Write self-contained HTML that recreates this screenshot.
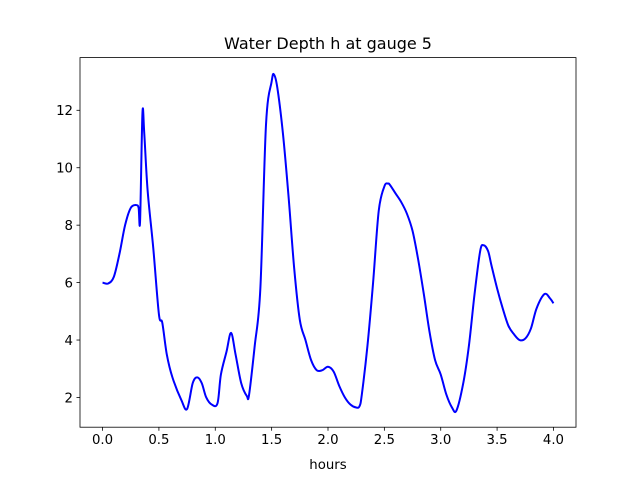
<!DOCTYPE html>
<html><head><meta charset="utf-8"><style>
body{margin:0;background:#fff}
text{font-family:"DejaVu Sans","Liberation Sans",sans-serif;fill:#000}
</style></head><body>
<svg width="640" height="480" viewBox="0 0 640 480">
<rect width="640" height="480" fill="#fff"/>
<g id="plot"></g>
<rect x="80" y="57.6" width="496" height="369.6" fill="none" stroke="#000" stroke-width="0.8"/>
<text x="328" y="49" text-anchor="middle" font-size="16">Water Depth h at gauge 5</text>
<text x="328" y="469" text-anchor="middle" font-size="13.3">hours</text>
</svg>
<script>
const times=[0,0.05,0.1,0.15,0.2,0.25,0.3,0.32,0.333,0.354,0.37,0.4,0.45,0.5,0.53,0.57,0.62,0.7,0.75,0.8,0.84,0.88,0.92,0.97,1.02,1.05,1.1,1.14,1.18,1.23,1.28,1.3,1.35,1.4,1.45,1.5,1.52,1.55,1.6,1.65,1.7,1.75,1.8,1.85,1.9,1.95,2.0,2.05,2.1,2.15,2.2,2.25,2.28,2.3,2.35,2.4,2.45,2.5,2.53,2.55,2.6,2.65,2.7,2.75,2.8,2.85,2.9,2.95,3.0,3.05,3.1,3.14,3.2,3.25,3.3,3.35,3.38,3.42,3.45,3.5,3.55,3.6,3.65,3.7,3.75,3.8,3.85,3.92,3.97,4.0];
const depths=[6.0,5.97,6.2,7.0,8.0,8.6,8.7,8.6,8.15,11.9,11.2,9.2,7.2,4.9,4.6,3.5,2.7,1.9,1.6,2.5,2.7,2.5,2.0,1.75,1.8,2.8,3.6,4.25,3.5,2.5,2.05,2.1,3.8,5.8,11.5,13.0,13.25,12.8,11.2,9.0,6.5,4.7,4.0,3.3,2.95,2.95,3.07,2.9,2.4,2.0,1.75,1.65,1.7,2.1,3.8,6.0,8.5,9.35,9.45,9.4,9.1,8.8,8.4,7.8,6.8,5.6,4.3,3.3,2.8,2.1,1.65,1.55,2.5,3.8,5.6,7.1,7.3,7.1,6.6,5.8,5.1,4.5,4.2,4.0,4.05,4.4,5.1,5.6,5.45,5.28];
const xTicks=[0,0.5,1,1.5,2,2.5,3,3.5,4];
const xTickLabels=["0.0","0.5","1.0","1.5","2.0","2.5","3.0","3.5","4.0"];
const yTicks=[2,4,6,8,10,12];
const yTickLabels=["2","4","6","8","10","12"];
const X0=80,X1=576,Y0=427.2,Y1=57.6,xmin=-0.2,xmax=4.2,ymin=0.965,ymax=13.835;
const sx=v=>X0+(v-xmin)/(xmax-xmin)*(X1-X0);
const sy=v=>Y0-(v-ymin)/(ymax-ymin)*(Y0-Y1);
const NS="http://www.w3.org/2000/svg",g=document.getElementById('plot');
function mk(t,a){const e=document.createElementNS(NS,t);for(const k in a)e.setAttribute(k,a[k]);g.appendChild(e);return e;}
xTicks.forEach((v,i)=>{
 const l=mk('line',{x1:sx(v),x2:sx(v),y1:Y0,y2:Y0+3.5,stroke:'#000','stroke-width':0.8});
 
 
 const t=mk('text',{x:sx(v),y:Y0+17,'text-anchor':'middle','font-size':13.3});t.textContent=xTickLabels[i];
 
 
});
yTicks.forEach((v,i)=>{
 const l=mk('line',{x1:X0-3.5,x2:X0,y1:sy(v),y2:sy(v),stroke:'#000','stroke-width':0.8});
 
 
 const t=mk('text',{x:X0-7,y:sy(v)+4.8,'text-anchor':'end','font-size':13.3});t.textContent=yTickLabels[i];
 
 
});
const P=times.map((t,i)=>[sx(t),sy(depths[i])]);
let d='M'+P[0][0]+','+P[0][1];
for(let i=0;i<P.length-1;i++){
 const p0=P[Math.max(0,i-1)],p1=P[i],p2=P[i+1],p3=P[Math.min(P.length-1,i+2)];
 const c1=[p1[0]+(p2[0]-p0[0])/6,p1[1]+(p2[1]-p0[1])/6],c2=[p2[0]-(p3[0]-p1[0])/6,p2[1]-(p3[1]-p1[1])/6];
 d+=' C'+c1+' '+c2+' '+p2;
}
const line=mk('path',{d:d,fill:'none',stroke:'#0000ff','stroke-width':2,'stroke-linejoin':'round'});


</script>
</body></html>
